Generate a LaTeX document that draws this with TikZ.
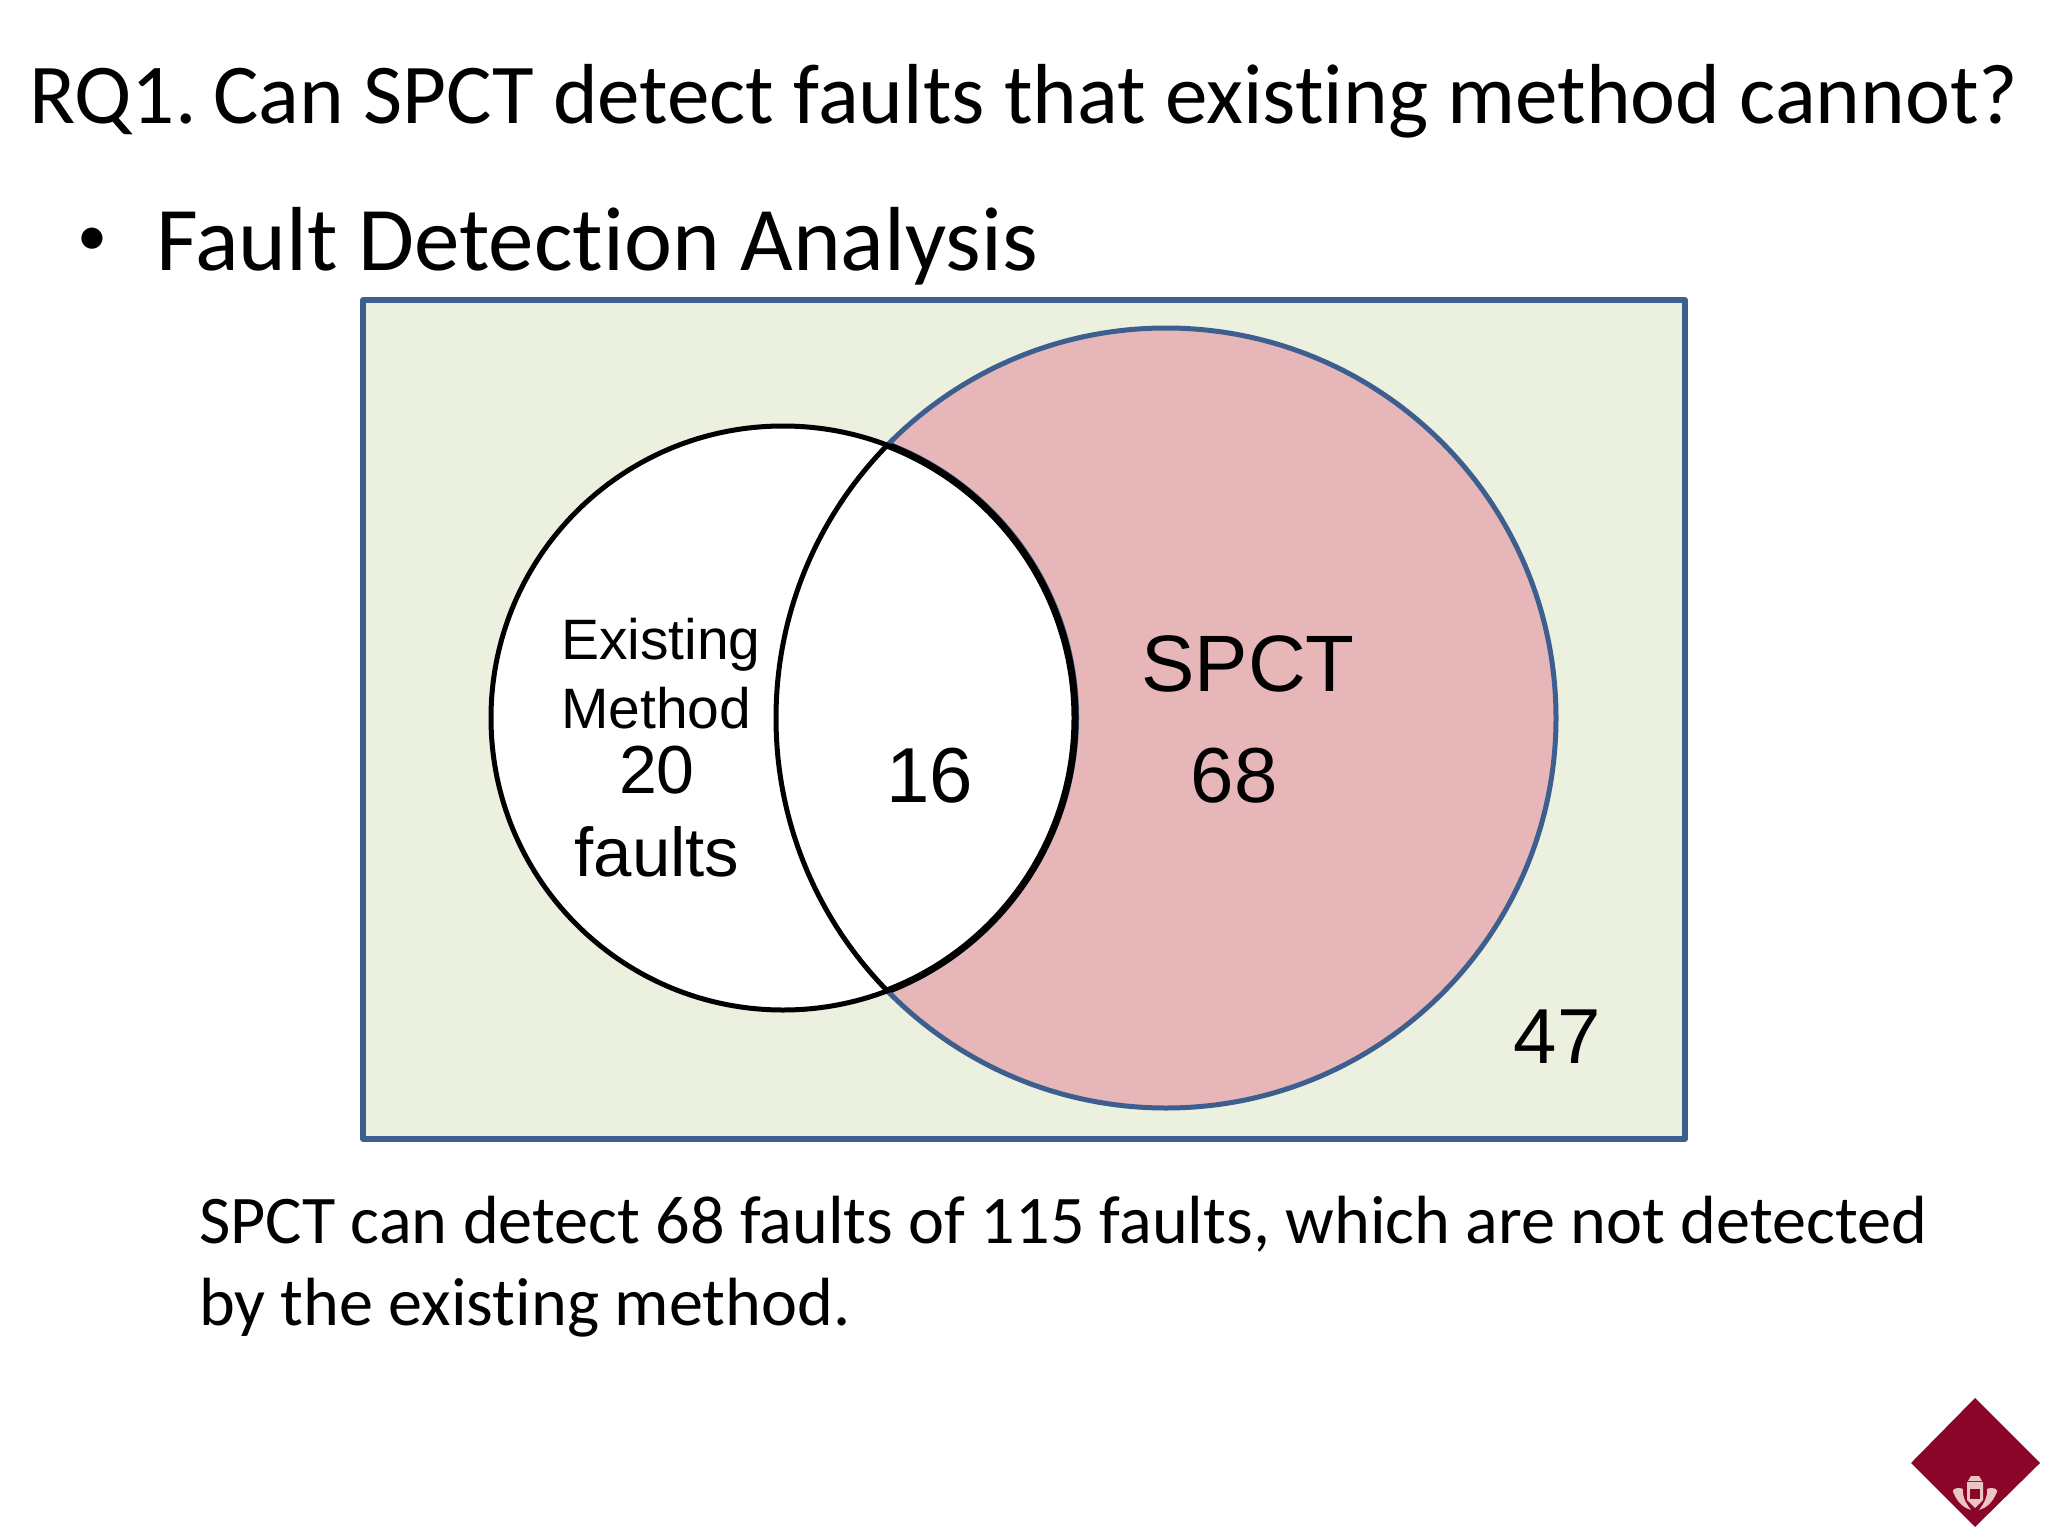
\documentclass[tikz,border=0pt]{standalone}
\usepackage{fontspec}
\setmainfont[Ligatures=NoCommon]{Carlito}
\newfontfamily\arialf{Liberation Sans}
\definecolor{bgfill}{HTML}{ECF0DE}
\definecolor{bluel}{HTML}{3D5F8F}
\definecolor{pinkf}{HTML}{E6B6B8}
\definecolor{wine}{HTML}{8A0529}
\definecolor{crest}{HTML}{EBC4C6}
\tikzset{
  cal/.style={inner sep=0pt,outer sep=0pt,anchor=base west,font=\fontsize{#1}{#1}\selectfont},
  ari/.style={inner sep=0pt,outer sep=0pt,anchor=base,font=\arialf\fontsize{#1}{#1}\selectfont},
  aril/.style={inner sep=0pt,outer sep=0pt,anchor=base west,font=\arialf\fontsize{#1}{#1}\selectfont}
}
\begin{document}
\begin{tikzpicture}[x=1pt,y=-1pt,line join=round]
\useasboundingbox (0,0) rectangle (2048,1536);
\fill[white] (0,0) rectangle (2048,1536);
% universe box
\draw[fill=bgfill,draw=bluel,line width=5.5pt] (363,300) rectangle (1685,1139);
% SPCT circle
\draw[fill=pinkf,draw=bluel,line width=5pt] (1166,718) circle[radius=390];
% blue fringe
\begin{scope}
  \clip (1166,718) circle[radius=390];
  \draw[bluel,line width=5pt] (784.5,717) circle[radius=292];
\end{scope}
% existing method circle
\draw[fill=white,draw=black,line width=5pt] (783,718) circle[radius=292];
% left arc of SPCT inside existing
\begin{scope}
  \clip (783,718) circle[radius=292];
  \draw[black,line width=5pt] (1166,718) circle[radius=390];
\end{scope}
% thick right arc
\begin{scope}
  \clip (1166,718) circle[radius=388];
  \draw[black,line width=7pt] (783,718) circle[radius=292];
\end{scope}
% texts
\node[cal=85.2] (title) at (29,124) {RQ1.\kern-2.5pt\ Can SPCT detect faults that existing method cannot?};
\node[cal=60] (bul) at (77,255) {•};
\node[cal=91] (sub) at (156,270) {Fault Detection Analysis};
\node[cal=68.2] (l1) at (199,1243) {SPCT can detect 68 faults of 115 faults, which are not detected};
\node[cal=68.2] (l2) at (199,1325) {by the existing method.};
\node[aril=57] (ex) at (561,659) {Existing};
\node[aril=57] (me) at (561,728) {Method};
\node[ari=68] (n20) at (657,793) {20};
\node[ari=69] (fa) at (657,876) {faults};
\node[ari=78] (n16) at (930,802) {16};
\node[ari=80] (sp) at (1248,691) {SPCT};
\node[ari=78] (n68) at (1234,802) {68};
\node[ari=78] (n47) at (1557,1063) {47};
% logo
\fill[wine] (1975,1398) -- (2040,1463) -- (1975,1527) -- (1911,1463) -- cycle;
\fill[crest] (1967,1482) -- (1983,1482) -- (1983,1500) -- (1975,1508) -- (1967,1500) -- cycle;
\fill[wine] (1970,1489) rectangle (1980,1499);
\fill[crest] (1968,1481) -- (1971,1476) -- (1979,1476) -- (1982,1481) -- cycle;
\fill[crest] (1963,1489) .. controls (1956,1486) and (1950,1490) .. (1954,1494) .. controls (1958,1503) and (1964,1508) .. (1971,1510) .. controls (1966,1503) and (1962,1497) .. (1963,1489);
\fill[crest] (1987,1489) .. controls (1994,1486) and (2000,1490) .. (1996,1494) .. controls (1992,1503) and (1986,1508) .. (1979,1510) .. controls (1984,1503) and (1988,1497) .. (1987,1489);
\end{tikzpicture}
\end{document}
